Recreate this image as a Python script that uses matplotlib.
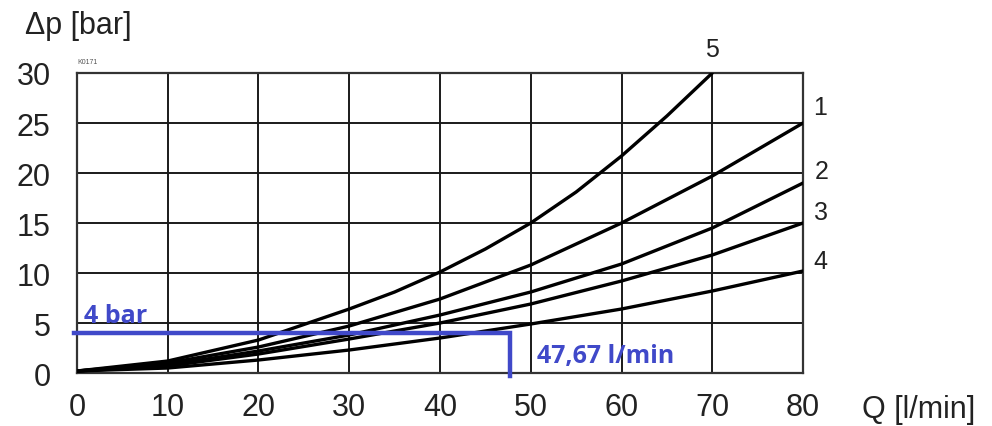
import matplotlib.pyplot as plt

# flow rate [l/min] and pressure drop [bar] for each characteristic curve
q = [0, 10, 20, 30, 40, 50, 60, 70, 80]
dp_1 = [0.2, 1.0, 2.6, 4.7, 7.4, 10.8, 15.0, 19.7, 25.0]
dp_2 = [0.2, 0.8, 2.2, 3.8, 5.8, 8.1, 10.9, 14.5, 19.0]
dp_3 = [0.2, 0.7, 1.9, 3.4, 5.0, 6.9, 9.2, 11.8, 15.0]
dp_4 = [0.2, 0.5, 1.3, 2.3, 3.5, 4.9, 6.4, 8.2, 10.2]
q_5 = [0, 10, 20, 30, 35, 40, 45, 50, 55, 60, 65, 70]
dp_5 = [0.2, 1.2, 3.3, 6.4, 8.1, 10.1, 12.4, 15.0, 18.1, 21.7, 25.7, 30.0]

curves = [("1", q, dp_1), ("2", q, dp_2), ("3", q, dp_3), ("4", q, dp_4), ("5", q_5, dp_5)]

# operating point
op_dp = 4
op_q = 47.67

x_ticks = [0, 10, 20, 30, 40, 50, 60, 70, 80]
y_ticks = [0, 5, 10, 15, 20, 25, 30]

plt.rcParams['font.family'] = ['Liberation Sans', 'DejaVu Sans']
blue = '#4049c9'
ink = '#222222'

fig = plt.figure(figsize=(9.92, 4.27), dpi=100)
ax = fig.add_axes([0.0776, 0.1241, 0.7319, 0.7026])
ax.set_xlim(0, 80)
ax.set_ylim(0, 30)
ax.set_xticks(x_ticks)
ax.set_yticks(y_ticks)
ax.tick_params(length=0, labelsize=22, colors=ink)
ax.tick_params(axis='y', pad=19)
ax.tick_params(axis='x', pad=14)
ax.grid(True, color='#1a1a1a', linewidth=1.4)
ax.set_axisbelow(True)
for s in ax.spines.values():
    s.set_color('#333333')
    s.set_linewidth(1.6)

for name, xs, ys in curves:
    ax.plot(xs, ys, color='black', linewidth=2.4, solid_capstyle='round',
            solid_joinstyle='round', zorder=3)

# curve numbers next to the curve ends
label_pos = {"5": (70, 32.4), "1": (81.9, 26.6), "2": (82.1, 20.2), "3": (82.0, 16.1), "4": (81.9, 11.2)}
for name, (lx, ly) in label_pos.items():
    ax.text(lx, ly, name, fontsize=18, color=ink, ha='center', va='center', clip_on=False)

# operating point marker lines
ax.plot([-0.3, op_q, op_q], [op_dp, op_dp, -0.3], color=blue, linewidth=3.2,
        solid_joinstyle='miter', clip_on=False, zorder=4)
ax.text(0.8, op_dp + 0.5, "4 bar", color=blue, fontsize=18, fontweight='bold',
        family=['Open Sans', 'DejaVu Sans'], ha='left', va='bottom')
ax.text(50.7, 1.8, "47,67 l/min", color=blue, fontsize=18, fontweight='bold',
        family=['Open Sans', 'DejaVu Sans'], ha='left', va='center')

# axis titles
fig.text(25 / 992, 1 - 26 / 427, "Δp [bar]", fontsize=22, color=ink, ha='left', va='center')
fig.text(862 / 992, 1 - 410 / 427, "Q [l/min]", fontsize=22, color=ink, ha='left', va='center')
ax.text(0, 30.8, "K0171", fontsize=5, color='#555555', ha='left', va='bottom')

fig.savefig("out.png", dpi=100)
